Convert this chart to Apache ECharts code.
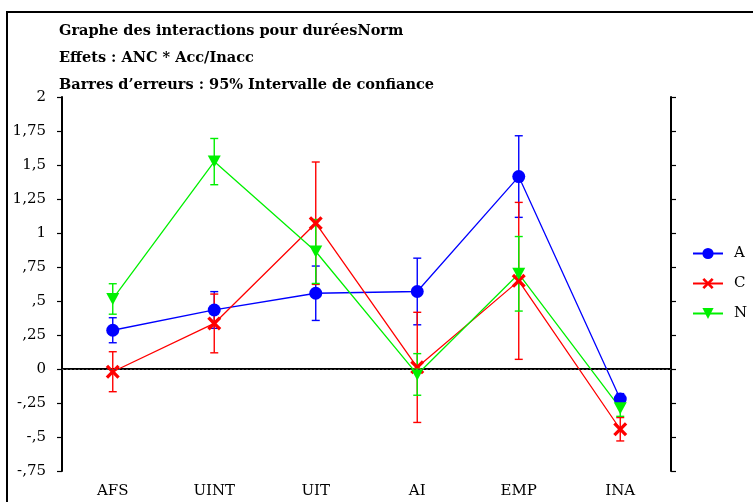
<!DOCTYPE html>
<html>
<head>
<meta charset="utf-8">
<script src="https://cdn.jsdelivr.net/npm/echarts@6/dist/echarts.min.js"></script>
<style>
html,body{margin:0;padding:0;background:#fff;}
#chart{width:753px;height:502px;}
</style>
</head>
<body>
<div id="chart"></div>
<script>
// ---- data ----
var categories = ['AFS', 'UINT', 'UIT', 'AI', 'EMP', 'INA'];
var seriesNames = ['A', 'C', 'N'];
var meanA = [0.285, 0.434, 0.557, 0.57, 1.415, -0.221];
var ciA   = [0.092, 0.135, 0.200, 0.245, 0.300, 0.040];
var meanC = [-0.02, 0.335, 1.072, 0.012, 0.648, -0.443];
var ciC   = [0.147, 0.216, 0.450, 0.405, 0.577, 0.086];
var meanN = [0.515, 1.525, 0.864, -0.04, 0.700, -0.288];
var ciN   = [0.112, 0.170, 0.235, 0.153, 0.274, 0.060];
var yTickLabels = ['-,75', '-,5', '-,25', '0', ',25', ',5', ',75', '1', '1,25', '1,5', '1,75', '2'];
var titleLines = [
  'Graphe des interactions pour duréesNorm',
  'Effets : ANC * Acc/Inacc',
  'Barres d\u2019erreurs : 95% Intervalle de confiance'
];

var yMin = -0.75, yMax = 2, yStep = 0.25;
var colors = { A: '#0000ff', C: '#ff0000', N: '#00f000' };
var serifFont = '"DejaVu Serif", "Liberation Serif", serif';

var xPath = 'path://M0,2 L2,0 L6,4 L10,0 L12,2 L8,6 L12,10 L10,12 L6,8 L2,12 L0,10 L4,6 Z';

function errData(means, cis) {
  return means.map(function (m, i) { return [i, m - cis[i], m + cis[i]]; });
}

function errSeries(name, means, cis, color) {
  return {
    type: 'custom',
    name: name + '_err',
    z: 2,
    silent: true,
    data: errData(means, cis),
    renderItem: function (params, api) {
      var x = api.value(0);
      var lo = api.coord([x, api.value(1)]);
      var hi = api.coord([x, api.value(2)]);
      var w = 4;
      var st = { stroke: color, lineWidth: 1.4 };
      return {
        type: 'group',
        children: [
          { type: 'line', shape: { x1: lo[0], y1: lo[1], x2: hi[0], y2: hi[1] }, style: st },
          { type: 'line', shape: { x1: lo[0] - w, y1: lo[1], x2: lo[0] + w, y2: lo[1] }, style: st },
          { type: 'line', shape: { x1: hi[0] - w, y1: hi[1], x2: hi[0] + w, y2: hi[1] }, style: st }
        ]
      };
    }
  };
}

var chart = echarts.init(document.getElementById('chart'), null, { renderer: 'canvas' });

var axisLineStyle = { color: '#000', width: 2 };
var tickStyle = { color: '#000', width: 1.2 };

var option = {
  animation: false,
  backgroundColor: '#fff',
  title: {
    text: titleLines.join('\n'),
    left: 59,
    top: 18,
    padding: 0,
    textStyle: {
      fontFamily: serifFont,
      fontWeight: 'bold',
      fontSize: 14.5,
      color: '#000',
      lineHeight: 27
    }
  },
  graphic: [
    {
      type: 'rect',
      shape: { x: 7, y: 12, width: 900, height: 700 },
      style: { fill: 'none', stroke: '#000', lineWidth: 2 },
      silent: true
    }
  ],
  legend: {
    data: seriesNames,
    orient: 'vertical',
    left: 687,
    top: 241,
    itemWidth: 30,
    itemHeight: 14,
    itemGap: 15,
    textStyle: { fontFamily: serifFont, fontSize: 15, color: '#000', padding: [0, 0, 0, 6] }
  },
  grid: { left: 62, right: 82, top: 97, bottom: 31, containLabel: false },
  xAxis: [
    {
      type: 'category',
      data: categories,
      position: 'bottom',
      boundaryGap: true,
      axisLine: { lineStyle: axisLineStyle },
      axisTick: { alignWithLabel: true, inside: false, length: 5, lineStyle: tickStyle },
      axisLabel: { fontFamily: serifFont, fontSize: 15, color: '#000', margin: 13 },
      splitLine: { show: false }
    },
    {
      type: 'category',
      data: categories,
      position: 'top',
      boundaryGap: true,
      axisLine: { lineStyle: axisLineStyle },
      axisTick: { alignWithLabel: true, inside: false, length: 5, lineStyle: tickStyle },
      axisLabel: { show: false },
      splitLine: { show: false }
    }
  ],
  yAxis: [
    {
      type: 'value',
      position: 'left',
      min: yMin, max: yMax, interval: yStep,
      axisLine: { show: true, lineStyle: axisLineStyle },
      axisTick: { show: true, inside: false, length: 5, lineStyle: tickStyle },
      axisLabel: {
        fontFamily: serifFont, fontSize: 15, color: '#000', margin: 16,
        formatter: function (v) {
          var idx = Math.round((v - yMin) / yStep);
          return yTickLabels[idx] !== undefined ? yTickLabels[idx] : '';
        }
      },
      splitLine: { show: false }
    },
    {
      type: 'value',
      position: 'right',
      min: yMin, max: yMax, interval: yStep,
      axisLine: { show: true, lineStyle: axisLineStyle },
      axisTick: { show: true, inside: false, length: 5, lineStyle: tickStyle },
      axisLabel: { show: false },
      splitLine: { show: false }
    }
  ],
  series: [
    errSeries('A', meanA, ciA, colors.A),
    {
      type: 'line', name: 'A', data: meanA, z: 3,
      symbol: 'circle', symbolSize: 13,
      lineStyle: { color: colors.A, width: 1.3 },
      itemStyle: { color: colors.A },
      markLine: {
        silent: true, symbol: 'none',
        label: { show: false },
        lineStyle: { color: '#444', type: [2, 2], width: 1 },
        data: [{ yAxis: 0 }]
      }
    },
    errSeries('C', meanC, ciC, colors.C),
    {
      type: 'line', name: 'C', data: meanC, z: 3,
      symbol: xPath, symbolSize: 14,
      lineStyle: { color: colors.C, width: 1.3 },
      itemStyle: { color: colors.C }
    },
    errSeries('N', meanN, ciN, colors.N),
    {
      type: 'line', name: 'N', data: meanN, z: 3,
      symbol: 'triangle', symbolRotate: 180, symbolSize: [13, 12],
      lineStyle: { color: colors.N, width: 1.3 },
      itemStyle: { color: colors.N }
    }
  ]
};

chart.setOption(option);
</script>
</body>
</html>
